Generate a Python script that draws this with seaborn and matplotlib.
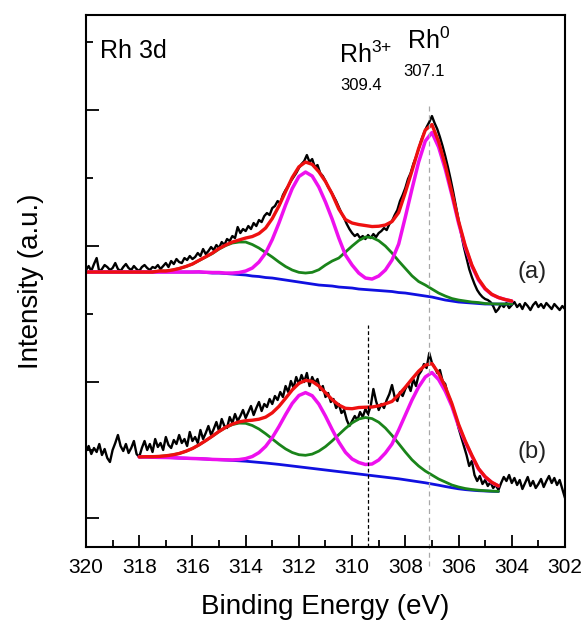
import numpy as np
import matplotlib
matplotlib.use("Agg")
import matplotlib.pyplot as plt
import seaborn as sns
from matplotlib.ticker import MultipleLocator

### data (intensity in arbitrary units, spectrum (a) offset above (b))

energy_raw   = np.round(np.arange(320.0, 301.95, -0.1), 1)
energy_fit_a = np.round(np.arange(320.0, 303.99, -0.25), 2)
energy_fit_b = np.round(np.arange(318.0, 304.49, -0.25), 2)

raw_a = [277, 281, 276, 283, 289, 275, 278, 282, 280, 277, 279, 284, 278, 276, 280, 283, 279, 277, 281, 278, 276, 280, 282, 279, 277, 280,
         279, 282, 278, 281, 284, 280, 286, 283, 288, 285, 284, 289, 287, 291, 288, 290, 294, 291, 298, 293, 296, 300, 297, 302, 299,
         305, 302, 308, 306, 311, 309, 320, 314, 318, 316, 321, 318, 324, 321, 327, 325, 331, 334, 332, 339,
         341, 346, 344, 352, 357, 361, 366, 370, 374, 379, 383, 386, 392, 385, 388, 380, 382, 374, 371, 366,
         360, 356, 351, 346, 340, 334, 329, 323, 318, 314, 311, 313, 309, 311, 308, 312, 309, 313, 310, 314,
         316, 319, 317, 323, 326, 332, 337, 346, 352, 359, 368, 374, 383, 390, 398, 407, 414, 420, 425, 431,
         424, 418, 410, 401, 391, 380, 368, 355, 341, 327, 313, 300, 289, 278, 270, 263, 257, 253, 250, 248,
         247, 245, 241, 235, 238, 243, 240, 244, 239, 242, 245, 240, 243, 238, 244, 241, 237, 242, 245, 240,
         243, 239, 244, 241, 238, 243, 240, 237, 241, 238]

raw_b = [96, 101, 93, 99, 95, 103, 92, 98, 89, 85, 97, 104, 112, 101, 96, 103, 94, 99, 106, 93, 90,
         99, 106, 97, 103, 95, 108, 100, 104, 97, 110, 102, 99, 107, 103, 112, 104, 108, 101, 115, 106,
         110, 104, 117, 108, 114, 121, 112, 118, 125, 116, 128, 121, 119, 130, 124, 133, 126, 131, 137, 129,
         135, 141, 132, 139, 145, 136, 143, 140, 148, 143, 151, 147, 155, 150, 161, 155, 166, 159, 170, 163,
         172, 165, 174, 161, 170, 164, 168, 157, 161, 150, 154, 145, 148, 139, 143, 134, 137, 127, 121, 126,
         131, 127, 135, 130, 138, 133, 141, 158, 146, 137, 143, 139, 147, 153, 162, 150, 146, 155, 151, 158,
         163, 156, 168, 161, 172, 176, 183, 179, 194, 184, 180, 174, 177, 166, 163, 152, 147, 137, 130, 119,
         110, 101, 92, 81, 86, 72, 66, 71, 63, 67, 61, 65, 59, 62, 57, 64, 70, 66, 72, 64,
         69, 62, 67, 58, 64, 70, 61, 66, 59, 63, 68, 60, 66, 71, 64, 69, 62, 67, 58, 49]

# (a) fit: Shirley background, Rh3+ doublet, Rh0 doublet, envelope
bg_a = [275, 275, 275, 275, 275, 275, 275, 275, 275, 275, 275, 275, 275, 275, 275, 275, 275, 275,
        274.5, 274, 274, 273.5, 273, 272.5, 272, 271, 270.5, 269.5, 269, 268, 267, 266, 265, 264, 263, 262,
        261.5, 261, 260, 259.5, 259, 258, 257.5, 257, 256.5, 256, 255.5, 254.5, 254, 253, 252, 251, 250,
        248.5, 247, 246, 245, 244.5, 244, 243.5, 243, 243, 243, 243, 243]
rh3_a = [275, 275, 275, 275, 275, 275, 275, 275, 275, 275, 275,
         276, 276, 277, 278.5, 280.5, 283, 286.5, 290, 293.5, 298,
         301.5, 304, 305, 305, 302.5, 299, 294.5, 290, 285, 280.5,
         277, 274.7, 274, 274.7, 277.3, 282, 286, 289, 295, 301,
         306.5, 310, 309.5, 306.3, 301, 294, 286, 278.6, 271.2, 265.5,
         262, 258, 254, 251, 248.5, 247, 246, 245, 244.5, 243.5,
         243.2, 243, 243, 243]
rh0_a = [275, 275, 275, 275, 275, 275, 275, 275, 275, 275, 275, 275, 275, 275, 275, 275, 275,
         275.2, 274.8, 274.5, 274.5, 274, 274, 274.5, 276, 279, 285,
         294, 307.5, 324, 342, 358.5, 370.5, 375, 371, 360, 345,
         328, 309, 292, 282, 274, 269, 268, 271, 277, 287,
         303, 330, 358, 385, 406, 414.5, 400, 378, 352, 324,
         300, 281, 267, 258, 252.5, 249.5, 247.5, 246]
env_a = [275, 275, 275, 275, 275, 275, 275, 275, 275, 275, 275,
         276, 276, 277, 278.5, 280.5, 283, 286.7, 290.3, 294, 298.5,
         302, 305, 307, 309, 310.5, 313.5, 319, 328.5, 341, 355.5,
         369.5, 380.2, 385, 382.7, 375.3, 365.5, 353, 338, 327.5, 324,
         322.5, 321.5, 320.5, 320.8, 322, 325.5, 334.5, 354.6, 376.2, 398.5,
         417, 422.5, 405.5, 382, 354.5, 326, 301.5, 282, 268, 258.5,
         252.7, 249.5, 247.5, 246]

# (b) fit
bg_b = [90, 90, 89.8, 89.6, 89.5, 89.3, 89, 88.8, 88.5, 88.3,
        88, 87.6, 87.3, 87, 86.6, 86.2, 85.8, 85.2, 84.6, 84,
        83.3, 82.6, 81.8, 81, 80.2, 79.4, 78.6, 77.8, 77, 76.2,
        75.4, 74.6, 73.8, 73, 72.2, 71.4, 70.6, 69.8, 69, 68.2,
        67.2, 66.2, 65.2, 64.2, 63, 61.8, 60.5, 59.3, 58.2, 57.4,
        56.8, 56.3, 56, 55.7, 55.5]
rh3_b = [90.1, 90.3, 90.3, 90.6, 91.2, 92.1, 93.5, 95.7, 98.5, 102.2,
         106.4, 110.9, 115.5, 119.5, 122.4, 123.9, 123.7, 121.5, 118, 113.3,
         108.1, 102.8, 98.1, 94.5, 92.3, 91.7, 92.9, 95.9, 100.4, 106.1,
         112.4, 118.6, 124.1, 128, 129.5, 128.4, 124.8, 119, 111.6, 103.4,
         95, 87.2, 81, 76, 72, 68, 65, 62, 60, 58.5,
         57.5, 56.8, 56.3, 55.9, 55.6]
rh0_b = [90, 90, 89.8, 89.6, 89.5, 89.3, 89, 88.8, 88.5, 88.3,
         88, 87.6, 87.4, 87.2, 87.1, 87.4, 88.4, 90.5, 94.4, 100.6,
         109.4, 120.4, 132.4, 143.6, 151.5, 154.4, 151.3, 142.9, 130.9, 117.5,
         105, 94.7, 88, 84.5, 82.5, 83, 87, 94, 103, 117,
         132, 147, 160, 170, 174.5, 167.5, 155.8, 140.7, 121, 105,
         91, 78, 70, 64.5, 61]
env_b = [90.1, 90.3, 90.3, 90.6, 91.2, 92.1, 93.5, 95.7, 98.5, 102.2,
         106.4, 110.9, 115.6, 119.7, 122.9, 125.1, 126.3, 126.8, 127.8, 129.9,
         134.2, 140.6, 148.7, 157.1, 163.6, 166.7, 165.6, 161, 154.3, 147.4,
         142, 138.7, 138.3, 139.5, 139.8, 140, 141.2, 143.2, 145.6, 152.2,
         159.8, 168, 175.8, 181.8, 183.5, 173.7, 160.3, 143.4, 122.8, 106.1,
         91.7, 78.5, 70.3, 64.7, 61.1]

rh3_position = 309.4
rh0_position = 307.1

###

sns.set_style("ticks", {'axes.edgecolor': 'black', 'text.color': 'black', 'axes.labelcolor': 'black',
                        'xtick.color': 'black', 'ytick.color': 'black'})
plt.rcParams['font.family'] = ['Liberation Sans', 'DejaVu Sans']
plt.rcParams['mathtext.fontset'] = 'custom'
plt.rcParams['mathtext.rm'] = 'Liberation Sans'

fig = plt.figure(figsize=(5.87, 6.28), dpi=100)
ax = fig.add_axes([0.1465, 0.129, 0.816, 0.847])

for raw in (raw_a, raw_b):
    sns.lineplot(x=energy_raw, y=raw, ax=ax, color='black', lw=1.7, sort=False)

for e, bg, rh3, rh0, env in ((energy_fit_a, bg_a, rh3_a, rh0_a, env_a),
                             (energy_fit_b, bg_b, rh3_b, rh0_b, env_b)):
    sns.lineplot(x=e, y=bg,  ax=ax, color='#1010e0', lw=2.0, sort=False)
    sns.lineplot(x=e, y=rh3, ax=ax, color='#1a841a', lw=2.0, sort=False)
    sns.lineplot(x=e, y=rh0, ax=ax, color='#ee10ee', lw=2.5, sort=False)
    sns.lineplot(x=e, y=env, ax=ax, color='#ee1010', lw=2.4, sort=False)

# peak position guides
ax.axvline(rh0_position, ymin=-0.036, ymax=0.83, color='#a8a8a8', lw=0.9, ls=(0, (4, 3)), clip_on=False)
ax.axvline(rh3_position, ymin=0.0, ymax=0.418, color='black', lw=0.9, ls=(0, (3, 2)))

ax.text(0.029, 0.919, 'Rh 3d', transform=ax.transAxes, fontsize=18, ha='left', va='baseline')
ax.text(310.5, 484, r'$\mathregular{Rh^{3{+}}}$', fontsize=18, ha='left', va='baseline')
ax.text(310.45, 457, str(rh3_position), fontsize=12, ha='left', va='baseline')
ax.text(307.93, 498, r'$\mathregular{Rh^{0}}$', fontsize=18, ha='left', va='baseline')
ax.text(308.08, 471, str(rh0_position), fontsize=12, ha='left', va='baseline')
ax.text(303.23, 269, '(a)', fontsize=17, ha='center', va='baseline', color='#222222')
ax.text(303.25, 89, '(b)', fontsize=17, ha='center', va='baseline', color='#222222')

ax.set_xlim(320, 302)
ax.set_ylim(0, 532)
ax.set_xticks(np.arange(320, 301, -2))
ax.xaxis.set_minor_locator(MultipleLocator(1))
ax.set_yticks([29, 165, 301, 437])
ax.set_yticks([97, 233, 369, 505], minor=True)
ax.tick_params(which='both', direction='in', top=False, right=False, width=1.3, labelsize=15, pad=8)
ax.tick_params(which='major', length=9)
ax.tick_params(which='minor', length=5)
ax.tick_params(axis='y', labelleft=False)
for sp in ax.spines.values():
    sp.set_linewidth(1.5)

ax.set_xlabel('Binding Energy (eV)', fontsize=20)
ax.set_ylabel('Intensity (a.u.)', fontsize=20)
ax.xaxis.set_label_coords(0.5, -0.088)
ax.yaxis.set_label_coords(-0.088, 0.5)

fig.savefig('out.png', dpi=100)
